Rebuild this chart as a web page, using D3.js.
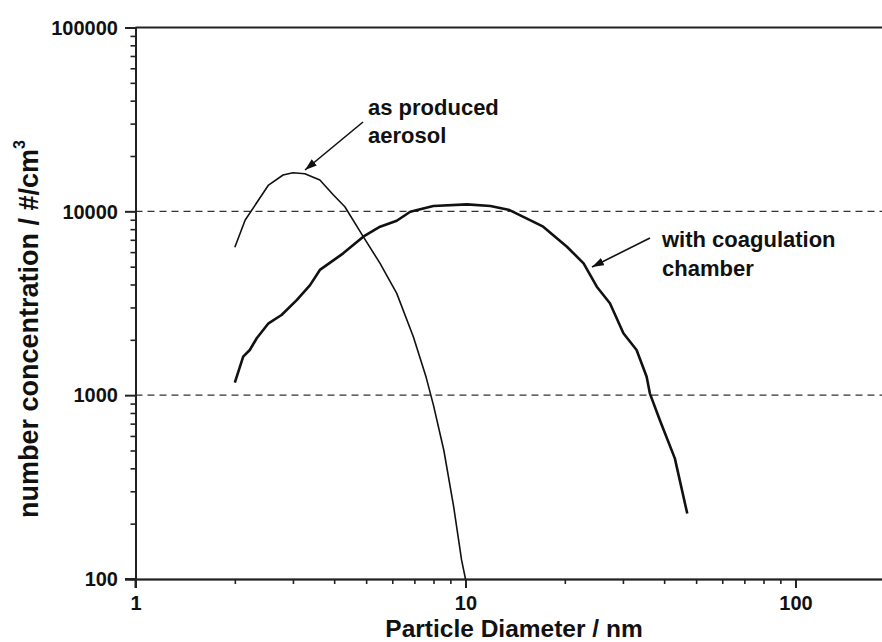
<!DOCTYPE html>
<html>
<head>
<meta charset="utf-8">
<script src="https://cdn.jsdelivr.net/npm/d3@7"></script>
<style>
  html, body { margin: 0; padding: 0; background: #fff; }
  svg { display: block; font-family: "Liberation Sans", Arial, Helvetica, sans-serif; }
  .axis text { font-weight: bold; font-size: 20px; fill: #111; }
  .axis path, .axis line { stroke: #222; }
</style>
</head>
<body>
<svg id="chart" width="882" height="642"></svg>
<script>
// Size distribution straight from the generator
const diamProduced = [2.0, 2.15, 2.53, 2.8, 3.0, 3.26, 3.62, 3.98, 4.31, 4.9, 5.51, 6.19, 6.95, 7.6, 8.0, 8.6, 9.2, 9.73, 10.0];
const concProduced = [6370, 8970, 13900, 15760, 16220, 16000, 14800, 12270, 10590, 7280, 5210, 3580, 2080, 1250, 880, 500, 250, 127, 100];

// Size distribution after the coagulation chamber
const diamChamber = [2.0, 2.12, 2.22, 2.33, 2.53, 2.77, 3.08, 3.38, 3.62, 4.26, 4.9, 5.51, 6.19, 6.8, 7.99, 10.1, 11.9, 13.6, 15.3, 17.2, 20.3, 22.8, 25.0, 27.4, 30.1, 33.0, 35.4, 36.2, 38.8, 43.1, 47.0];
const concChamber = [1170, 1620, 1760, 2040, 2460, 2730, 3290, 3970, 4800, 5910, 7280, 8250, 8890, 9950, 10690, 10910, 10690, 10160, 9160, 8250, 6420, 5210, 3890, 3160, 2170, 1760, 1260, 1023, 732, 453, 227];

// Axis ticks
const xMajorTicks = [1, 10, 100];
const yMajorTicks = [100, 1000, 10000, 100000];
const yGridValues = [1000, 10000];

const svg = d3.select("#chart");

const x = d3.scaleLog().domain([1, 200]).range([135.5, 894.8]);
const y = d3.scaleLog().domain([100, 100000]).range([579, 27.5]);

function minorTicks(lo, hi) {
  const out = [];
  for (let p = lo; p < hi; p *= 10) {
    for (let k = 2; k <= 9; k++) out.push(p * k);
  }
  return out;
}
const xMinor = minorTicks(1, 100).concat([200]).filter(v => v <= 200);
const yMinor = minorTicks(100, 100000);

// dashed reference lines
svg.append("g").selectAll("line").data(yGridValues).join("line")
  .attr("x1", x(1)).attr("x2", 882)
  .attr("y1", d => y(d)).attr("y2", d => y(d))
  .attr("stroke", "#333").attr("stroke-width", 1.4)
  .attr("stroke-dasharray", "7,5");

// top frame
svg.append("line")
  .attr("x1", x(1)).attr("x2", 882)
  .attr("y1", y(100000)).attr("y2", y(100000))
  .attr("stroke", "#222").attr("stroke-width", 2);

// y axis: minor then major ticks
svg.append("g").attr("class", "axis")
  .attr("transform", `translate(${x(1)},0)`)
  .call(d3.axisLeft(y).tickValues(yMinor).tickSize(5).tickFormat(""))
  .call(g => g.selectAll("path, line").attr("stroke-width", 1.6));
svg.append("g").attr("class", "axis")
  .attr("transform", `translate(${x(1)},0)`)
  .call(d3.axisLeft(y).tickValues(yMajorTicks).tickSize(10.5).tickPadding(7).tickFormat(d3.format("d")))
  .call(g => g.select("path").attr("stroke-width", 2))
  .call(g => g.selectAll("line").attr("stroke-width", 2))
  .call(g => g.selectAll("text").attr("dy", "0.34em"));

// x axis: minor then major ticks
svg.append("g").attr("class", "axis")
  .attr("transform", `translate(0,${y(100)})`)
  .call(d3.axisBottom(x).tickValues(xMinor).tickSize(5).tickFormat(""))
  .call(g => g.selectAll("path, line").attr("stroke-width", 1.6));
svg.append("g").attr("class", "axis")
  .attr("transform", `translate(0,${y(100)})`)
  .call(d3.axisBottom(x).tickValues(xMajorTicks).tickSize(9).tickPadding(8).tickFormat(d3.format("d")))
  .call(g => g.select("path").attr("stroke-width", 2))
  .call(g => g.selectAll("line").attr("stroke-width", 2));

// left axis line reaches down past the x axis, x axis reaches left past the y axis
svg.append("line").attr("x1", x(1)).attr("x2", x(1)).attr("y1", y(100)).attr("y2", y(100) + 9)
  .attr("stroke", "#222").attr("stroke-width", 2);
svg.append("line").attr("x1", x(1) - 10.5).attr("x2", x(1)).attr("y1", y(100)).attr("y2", y(100))
  .attr("stroke", "#222").attr("stroke-width", 2);

// curves
svg.append("clipPath").attr("id", "plot-clip")
  .append("rect").attr("x", x(1)).attr("y", y(100000)).attr("width", 882 - x(1)).attr("height", y(100) - y(100000));

const line = d3.line().x(d => x(d[0])).y(d => y(d[1]));
const plot = svg.append("g").attr("clip-path", "url(#plot-clip)");

plot.append("path")
  .datum(d3.zip(diamProduced, concProduced))
  .attr("d", line)
  .attr("fill", "none").attr("stroke", "#111").attr("stroke-width", 1.6)
  .attr("stroke-linejoin", "round");

plot.append("path")
  .datum(d3.zip(diamChamber, concChamber))
  .attr("d", line)
  .attr("fill", "none").attr("stroke", "#111").attr("stroke-width", 2.6)
  .attr("stroke-linejoin", "round");

// annotation arrows
svg.append("defs").append("marker")
  .attr("id", "arrowhead").attr("viewBox", "0 0 12 8")
  .attr("refX", 12).attr("refY", 4)
  .attr("markerWidth", 12).attr("markerHeight", 8)
  .attr("markerUnits", "userSpaceOnUse")
  .attr("orient", "auto")
  .append("path").attr("d", "M0,0 L12,4 L0,8 Z").attr("fill", "#111");

const arrows = [
  { x1: 363, y1: 122, x2: 305, y2: 170 },
  { x1: 650, y1: 238, x2: 592, y2: 267 }
];
svg.append("g").selectAll("line").data(arrows).join("line")
  .attr("x1", d => d.x1).attr("y1", d => d.y1)
  .attr("x2", d => d.x2).attr("y2", d => d.y2)
  .attr("stroke", "#111").attr("stroke-width", 1.6)
  .attr("marker-end", "url(#arrowhead)");

const notes = [
  { x: 368, y: 115, text: "as produced" },
  { x: 368, y: 143, text: "aerosol" },
  { x: 662, y: 247, text: "with coagulation" },
  { x: 662, y: 276, text: "chamber" }
];
svg.append("g").selectAll("text").data(notes).join("text")
  .attr("x", d => d.x).attr("y", d => d.y)
  .attr("font-size", 22).attr("font-weight", "bold").attr("fill", "#111")
  .text(d => d.text);

// axis titles
svg.append("text")
  .attr("x", 514).attr("y", 636.5)
  .attr("text-anchor", "middle")
  .attr("font-size", 24.5).attr("font-weight", "bold").attr("fill", "#111")
  .text("Particle Diameter / nm");

const yTitle = svg.append("text")
  .attr("transform", "translate(38,518) rotate(-90)")
  .attr("text-anchor", "start")
  .attr("font-size", 27).attr("font-weight", "bold").attr("fill", "#111");
yTitle.append("tspan").text("number concentration / #/cm");
yTitle.append("tspan").attr("font-size", 16).attr("dy", -13).text("3");
</script>
</body>
</html>
